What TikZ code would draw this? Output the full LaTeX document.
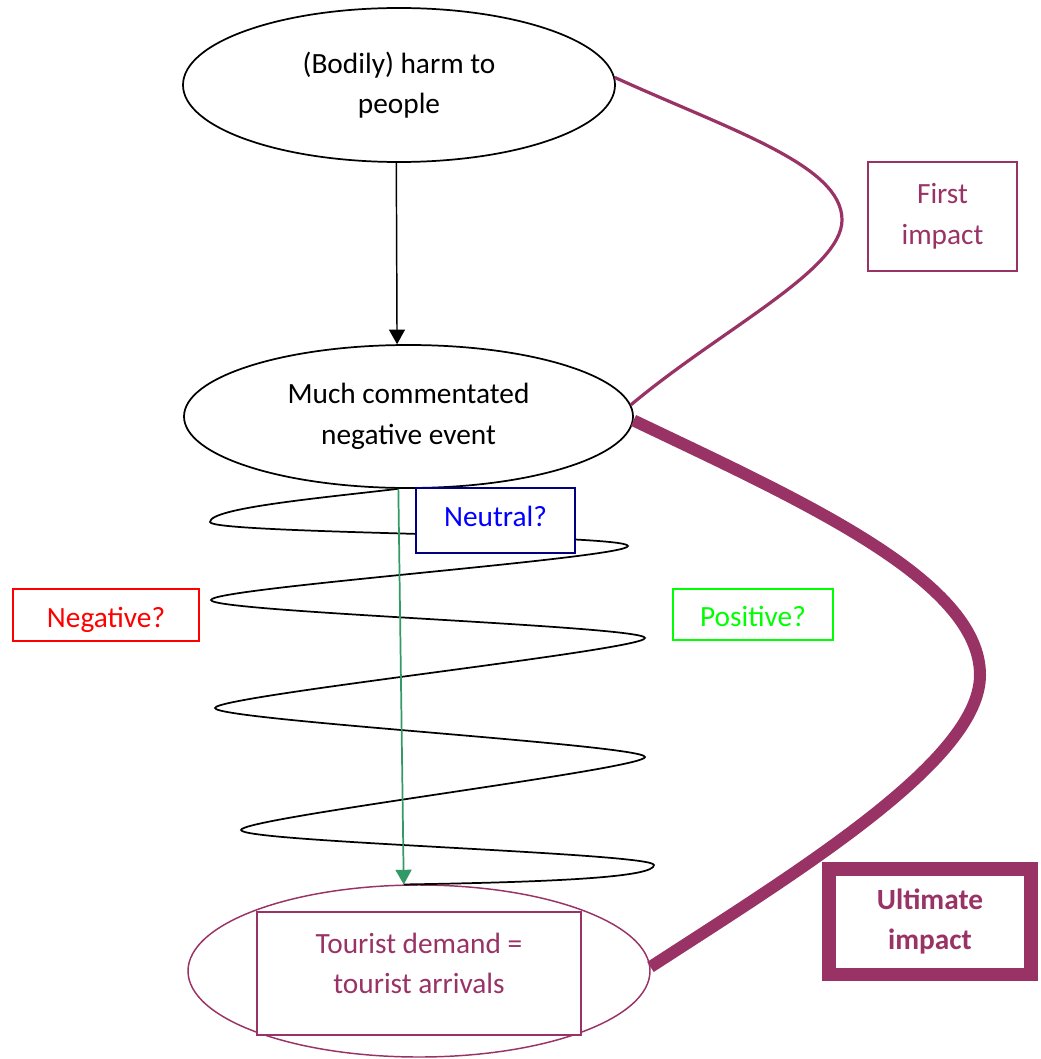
\documentclass[tikz,border=0pt]{standalone}
\usepackage{fontspec}
\setmainfont{Carlito}
\usetikzlibrary{shapes.geometric,arrows.meta}
\definecolor{plum}{RGB}{153,51,102}
\definecolor{seagreen}{RGB}{51,153,102}
\definecolor{navyblue}{RGB}{0,0,128}
\newcommand{\textsz}{\fontsize{22}{30.5}\selectfont}
\tikzset{
  bubble/.style={ellipse, draw, line width=1.3pt, align=center, inner sep=0pt},
  qbox/.style={rectangle, draw, line width=1.5pt, align=center, fill=white, inner sep=0pt},
  lowtext/.style={text height=18.5pt, text depth=0pt},
  impactline/.style={plum, line width=2.4pt},
  pointer/.style={-{Triangle[width=12pt,length=11pt]}, line width=1.1pt},
}

\begin{document}
\begin{tikzpicture}[x=0.75pt, y=-0.75pt, font=\textsz]
		\useasboundingbox (0,0) rectangle (1040,1059);
		
		% ellipses
		\node[bubble, minimum width=324pt, minimum height=115.5pt] (harm) at (399,85) {(Bodily) harm to\\people};
		\node[bubble, minimum width=336.75pt, minimum height=107.25pt] (event) at (408.5,416.5) {Much commentated\\negative event};
		\node[bubble, draw=plum, line width=1.1pt, minimum width=346.5pt, minimum height=129pt] (demand) at (419,971) {};
		\node[qbox, draw=plum, text=plum, minimum width=243pt, minimum height=92.25pt] (arrivals) at (419,973.5) {Tourist demand =\\tourist arrivals\\[-15pt]\mbox{}};
		
		\draw[pointer] (harm.268) -- (event.99);
		
		% the coil
		\draw[line width=1.3pt] (event.262) .. controls (320,498) and (210,508) .. (210,522)
			.. controls (210,534) and (628,534) .. (628,546)
			.. controls (628,558) and (211,588) .. (211,600)
			.. controls (211,612) and (645,626) .. (645,638)
			.. controls (645,650) and (215,696) .. (215,708)
			.. controls (215,720) and (645,745) .. (645,757)
			.. controls (645,769) and (241,818) .. (241,830)
			.. controls (241,842) and (654,853) .. (654,865)
			.. controls (654,877) and (560,882) .. (demand.100);
		\draw[pointer, seagreen, line width=1.3pt] (event.262) -- (demand.100);
		
		\node[qbox, draw=navyblue, text=blue, text height=15pt, text depth=6pt, minimum width=119.25pt, minimum height=48.75pt] (neutral) at (495.5,520.5) {Neutral?};
		\node[qbox, lowtext, draw=red, text=red, minimum width=139.5pt, minimum height=39pt] (negative) at (106,615) {Negative?};
		\node[qbox, lowtext, draw=green, text=green, minimum width=120pt, minimum height=38.25pt] (positive) at (753,614.5) {Positive?};
		
		% impacts
		\node[qbox, draw=plum, text=plum, minimum width=111.75pt, minimum height=81.75pt] (first) at (942.5,216.5) {First\\impact};
		\node[qbox, draw=plum, text=plum, line width=10pt, minimum width=151.5pt, minimum height=79pt, font=\textsz\bfseries] (ultimate) at (930,921.5) {Ultimate\\impact};
		
		\draw[impactline] (harm.2) .. controls (730,130) and (842,165) .. (842,220)
			.. controls (842,270) and (720,330) .. (event.3);
		\draw[plum, line width=9pt] (event.-1) .. controls (800,500) and (980,580) .. (980,675)
			.. controls (980,760) and (800,870) .. (demand.1);
		
	\end{tikzpicture}
\end{document}
